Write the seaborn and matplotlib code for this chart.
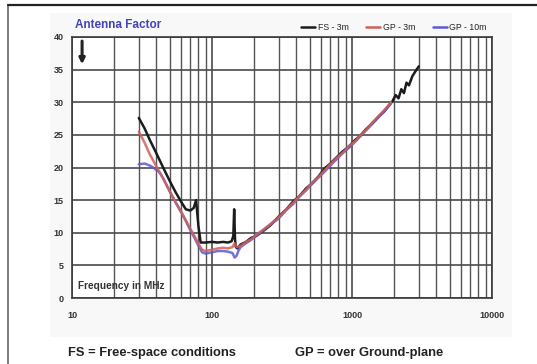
import matplotlib
matplotlib.use("Agg")
import matplotlib.pyplot as plt
from matplotlib.lines import Line2D
from matplotlib.patches import Rectangle
from matplotlib.ticker import LogLocator, NullFormatter
import seaborn as sns
import pandas as pd

# Antenna factor (dB/m) versus frequency (MHz)
fs_freq = [30, 33, 36, 40, 45, 50, 55, 60, 65, 70, 74, 77, 80, 83, 90, 100,
           110, 120, 130, 138, 142, 144, 146, 148, 152, 160, 175, 190, 210,
           230, 260, 300, 340, 380, 420, 470, 520, 580, 640, 700, 780, 860,
           950, 1050, 1150, 1250, 1400, 1550, 1700, 1850, 1950, 2050, 2150,
           2250, 2350, 2450, 2550, 2700, 2850, 3000]
fs_3m = [27.6, 26.0, 24.2, 22.2, 19.9, 17.9, 16.2, 14.8, 13.6, 13.4, 13.8,
         15.0, 11.0, 8.5, 8.5, 8.6, 8.5, 8.6, 8.5, 8.7, 9.5, 13.6, 9.0, 7.8,
         7.6, 8.2, 8.6, 9.2, 9.6, 10.2, 11.1, 12.5, 13.6, 14.8, 15.6, 16.8,
         17.6, 18.7, 19.9, 20.6, 21.6, 22.5, 23.2, 24.2, 24.9, 25.8, 26.8,
         27.8, 28.6, 29.6, 30.2, 31.1, 30.6, 32.0, 31.4, 33.0, 32.6, 34.0,
         34.8, 35.5]

gp3_freq = [30, 33, 36, 40, 45, 50, 55, 60, 65, 70, 75, 80, 85, 90, 100, 110,
            120, 130, 140, 145, 150, 160, 175, 190, 210, 230, 260, 300, 340,
            380, 420, 470, 520, 580, 640, 700, 780, 860, 950, 1050, 1150,
            1250, 1400, 1550, 1700, 1900]
gp_3m = [25.5, 23.8, 22.0, 20.2, 18.2, 16.3, 14.7, 13.3, 11.9, 10.6, 9.5, 8.3,
         7.4, 7.2, 7.4, 7.6, 7.7, 7.6, 7.8, 8.4, 7.8, 8.0, 8.6, 9.0, 9.8,
         10.4, 11.3, 12.4, 13.6, 14.6, 15.6, 16.6, 17.7, 18.6, 19.6, 20.5,
         21.5, 22.3, 23.3, 24.0, 25.0, 25.7, 26.9, 27.9, 28.8, 30.0]

gp10_freq = [30, 33, 36, 38, 42, 45, 50, 55, 60, 65, 70, 75, 80, 85, 90, 100,
             110, 120, 130, 140, 145, 150, 155, 160, 175, 190, 210, 230, 260,
             300, 340, 380, 420, 470, 520, 580, 640, 700, 780, 860, 950, 1050,
             1150, 1250, 1400, 1550, 1700, 1900]
gp_10m = [20.5, 20.6, 20.3, 20.0, 19.3, 18.3, 16.3, 14.6, 13.2, 11.8, 10.4,
          9.2, 8.0, 7.0, 6.8, 7.0, 7.2, 7.2, 7.1, 6.9, 6.2, 6.5, 7.3, 7.8, 8.4,
          8.9, 9.6, 10.3, 11.2, 12.2, 13.5, 14.4, 15.5, 16.5, 17.5, 18.5,
          19.4, 20.3, 21.3, 22.2, 23.0, 23.9, 24.8, 25.6, 26.7, 27.7, 28.6,
          29.8]

series_names = ["FS - 3m", "GP - 3m", "GP - 10m"]
series_colors = ["#1c1c1c", "#d0605a", "#5b5bd0"]

y_ticks = [0, 5, 10, 15, 20, 25, 30, 35, 40]
x_ticks = [10, 100, 1000, 10000]
x_tick_labels = ["10", "100", "1000", "10000"]

sns.set_style("white")
plt.rcParams["font.family"] = ["Liberation Sans", "DejaVu Sans"]

fig = plt.figure(figsize=(5.37, 3.64), dpi=100)

# faint backdrop panel and the frame lines
fig.patches.append(Rectangle((50 / 537, 1 - 337 / 364), 462 / 537, 324 / 364,
                             transform=fig.transFigure, facecolor="#f8f8f8",
                             edgecolor="none", zorder=-5))
fig.add_artist(Line2D([8 / 537, 8 / 537], [0, 1 - 5 / 364],
                      transform=fig.transFigure, color="#666666", lw=1.2))
fig.add_artist(Line2D([8 / 537, 1], [1 - 5 / 364, 1 - 5 / 364],
                      transform=fig.transFigure, color="#222222", lw=1.6))

ax = fig.add_axes([72 / 537, 1 - 298 / 364, 420 / 537, 261 / 364])
ax.set_facecolor("white")

frames = [
    pd.DataFrame({"freq": fs_freq, "af": fs_3m}),
    pd.DataFrame({"freq": gp3_freq, "af": gp_3m}),
    pd.DataFrame({"freq": gp10_freq, "af": gp_10m}),
]
# black underneath, then the two ground-plane traces
draw_order = [0, 2, 1]
line_alpha = [1.0, 0.85, 0.85]
for z, i in enumerate(draw_order):
    sns.lineplot(data=frames[i], x="freq", y="af", ax=ax, color=series_colors[i],
                 lw=1.8, alpha=line_alpha[i], estimator=None,
                 label=series_names[i], zorder=3 + z)

ax.set_xscale("log")
ax.set_xlim(10, 10000)
ax.set_ylim(0, 40)
ax.set_xticks(x_ticks)
ax.set_xticklabels(x_tick_labels)
ax.xaxis.set_minor_locator(LogLocator(base=10, subs=range(2, 10)))
ax.xaxis.set_minor_formatter(NullFormatter())
ax.set_yticks(y_ticks)
ax.set_yticklabels([str(v) for v in y_ticks])
ax.set_xlabel("")
ax.set_ylabel("")

ax.grid(True, which="major", axis="both", color="#4a4a4a", lw=1.2)
ax.grid(True, which="minor", axis="x", color="#555555", lw=1.0)
ax.set_axisbelow(True)
for sp in ax.spines.values():
    sp.set_color("#3a3a3a")
    sp.set_linewidth(1.2)

ax.tick_params(axis="both", which="both", length=0)
ax.tick_params(axis="y", pad=6, labelsize=6.5, labelcolor="#333333")
ax.tick_params(axis="x", pad=9, labelsize=6.5, labelcolor="#333333")
for lab in ax.get_xticklabels() + ax.get_yticklabels():
    lab.set_fontweight("bold")

handles, labels = ax.get_legend_handles_labels()
order = [labels.index(n) for n in series_names]
leg = ax.legend([handles[k] for k in order], [labels[k] for k in order],
                loc="lower right", bbox_to_anchor=(1.0, 1.0), ncol=3,
                frameon=False, fontsize=6.3, handlelength=1.6,
                handletextpad=0.3, columnspacing=2.0, borderaxespad=0.4,
                borderpad=0.2)
for h in leg.get_lines():
    h.set_alpha(1.0)

ax.text(0.008, 1.022, "Antenna Factor", transform=ax.transAxes,
        color="#4343b8", fontsize=8.5, fontweight="bold", ha="left",
        va="bottom")
ax.annotate("", xy=(0.024, 0.885), xytext=(0.024, 0.995),
            xycoords="axes fraction",
            arrowprops=dict(arrowstyle="-|>", color="#222222", lw=2.2,
                            mutation_scale=8))
ax.text(0.014, 0.045, "Frequency in MHz", transform=ax.transAxes,
        color="#333333", fontsize=7.3, fontweight="bold", ha="left",
        va="center")

fig.text(68 / 537, 1 - 353 / 364, "FS = Free-space conditions",
         fontsize=9.3, fontweight="bold", color="#222222", ha="left",
         va="center")
fig.text(295 / 537, 1 - 353 / 364, "GP = over Ground-plane",
         fontsize=9.3, fontweight="bold", color="#222222", ha="left",
         va="center")

fig.savefig("out.png", dpi=100)
